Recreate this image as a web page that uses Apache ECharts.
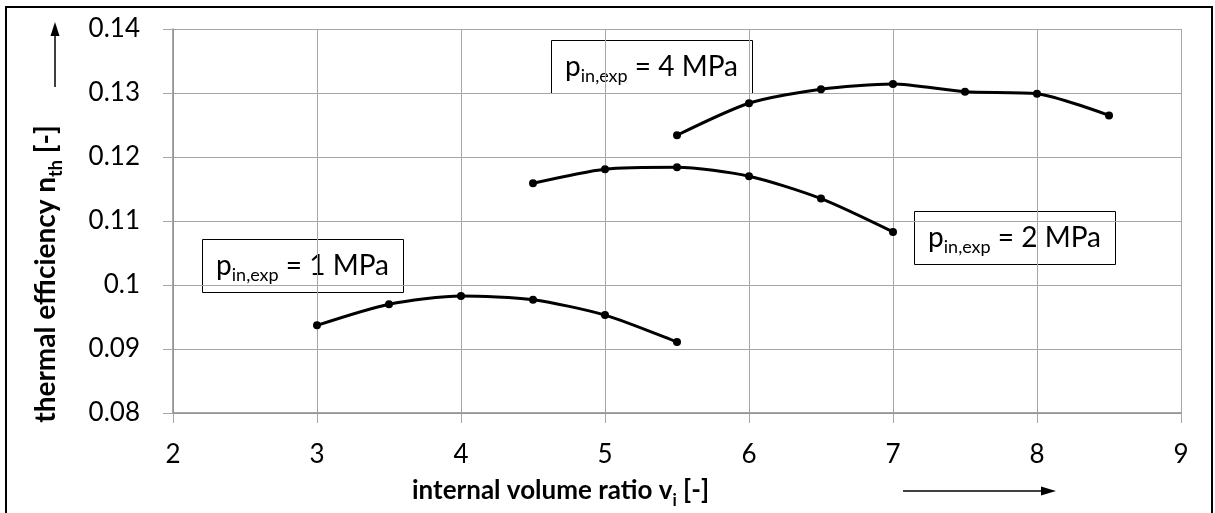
<!DOCTYPE html>
<html lang="en">
<head>
    <meta charset="UTF-8">
    <title>thermal efficiency</title>
    <script src="https://cdn.jsdelivr.net/npm/echarts@6/dist/echarts.min.js"></script>
    <style>
        html, body { margin: 0; padding: 0; background: #fff; }
        #chart { width: 1215px; height: 513px; }
    </style>
</head>
<body>
    <div id="chart"></div>
    <script>
        // volume ratio steps for each pressure
        var vi1 = [3, 3.5, 4, 4.5, 5, 5.5];
        var eta1 = [0.0937, 0.0970, 0.0983, 0.0977, 0.0953, 0.0911];
        var vi2 = [4.5, 5, 5.5, 6, 6.5, 7];
        var eta2 = [0.1159, 0.1181, 0.1184, 0.1170, 0.1135, 0.1083];
        var vi4 = [5.5, 6, 6.5, 7, 7.5, 8, 8.5];
        var eta4 = [0.1234, 0.1284, 0.1306, 0.1314, 0.1302, 0.1299, 0.1265];
        var boxLabels = ['1', '2', '4'];

        var FONT = 'Lato, "Noto Sans", sans-serif';

        function pairs(xs, ys) {
            return xs.map(function (x, i) { return [x, ys[i]]; });
        }

        function curve(name, xs, ys) {
            return {
                name: name,
                type: 'line',
                smooth: 0.25,
                data: pairs(xs, ys),
                symbol: 'circle',
                symbolSize: 8,
                lineStyle: { color: '#000', width: 3 },
                itemStyle: { color: '#000' },
                z: 3
            };
        }

        // rich styles for "main text + subscript"
        function subRich(size, subSize, bold, lh) {
            return {
                b: { fontFamily: FONT, fontWeight: bold ? 'bold' : 'normal', fontSize: size, lineHeight: lh, fill: '#000' },
                s: { fontFamily: FONT, fontWeight: bold ? 'bold' : 'normal', fontSize: subSize, lineHeight: subSize, verticalAlign: 'bottom', fill: '#000' }
            };
        }

        function labelBox(x, y, p) {
            return {
                type: 'group',
                left: x, top: y,
                children: [{
                    type: 'rect',
                    shape: { x: 0, y: 0, width: 201, height: 53 },
                    style: { fill: '#fff', stroke: '#000', lineWidth: 1 }
                }, {
                    type: 'text',
                    x: 100, y: 26,
                    style: {
                        text: '{b|p}{s|in,exp}{b| = ' + p + ' MPa}',
                        align: 'center',
                        verticalAlign: 'middle',
                        rich: subRich(28, 18, false, 38)
                    }
                }]
            };
        }

        var chart = echarts.init(document.getElementById('chart'));
        chart.setOption({
            animation: false,
            grid: { left: 173, right: 34, top: 29, bottom: 100 },
            xAxis: {
                type: 'value',
                min: 2, max: 9, interval: 1,
                axisLine: { onZero: false, lineStyle: { color: '#8c8c8c', width: 1.5 } },
                axisTick: { show: true, length: 10, lineStyle: { color: '#a6a6a6' } },
                axisLabel: { margin: 29, fontFamily: FONT, fontSize: 26, color: '#000' },
                splitLine: { show: true, lineStyle: { color: '#a6a6a6', width: 1 } }
            },
            yAxis: {
                type: 'value',
                min: 0.08, max: 0.14, interval: 0.01,
                axisLine: { show: true, lineStyle: { color: '#8c8c8c', width: 1.5 } },
                axisTick: { show: true, length: 10, lineStyle: { color: '#a6a6a6' } },
                axisLabel: {
                    margin: 33, fontFamily: FONT, fontSize: 26, color: '#000',
                    formatter: function (v) { return String(parseFloat(v.toFixed(2))); }
                },
                splitLine: { show: true, lineStyle: { color: '#a6a6a6', width: 1 } }
            },
            series: [
                curve('1 MPa', vi1, eta1),
                curve('2 MPa', vi2, eta2),
                curve('4 MPa', vi4, eta4)
            ],
            graphic: [
                // outer frame
                { type: 'polyline', shape: { points: [[6, 520], [6, 7], [1212, 7], [1212, 520]] },
                  style: { stroke: '#000', lineWidth: 2, fill: null } },
                labelBox(202, 239, boxLabels[0]),
                labelBox(914, 211, boxLabels[1]),
                labelBox(551, 40, boxLabels[2]),
                // axis titles
                { type: 'text', x: 412, y: 491,
                  style: { text: '{b|internal volume ratio v}{s|i}{b| [-]}', align: 'left', verticalAlign: 'middle',
                           rich: subRich(26, 17, true, 36) } },
                { type: 'text', x: 46, y: 274, rotation: Math.PI / 2,
                  style: { text: '{b|thermal efficiency n}{s|th}{b| [-]}', align: 'center', verticalAlign: 'middle',
                           rich: subRich(28, 18, true, 38) } },
                // y arrow
                { type: 'line', shape: { x1: 55, y1: 87, x2: 55, y2: 34 }, style: { stroke: '#000', lineWidth: 1.5 } },
                { type: 'polygon', shape: { points: [[55, 22], [50.5, 36], [59.5, 36]] }, style: { fill: '#000' } },
                // x arrow
                { type: 'line', shape: { x1: 903, y1: 491, x2: 1043, y2: 491 }, style: { stroke: '#000', lineWidth: 1.5 } },
                { type: 'polygon', shape: { points: [[1056, 491], [1041, 486.5], [1041, 495.5]] }, style: { fill: '#000' } }
            ]
        });
    </script>
</body>
</html>
